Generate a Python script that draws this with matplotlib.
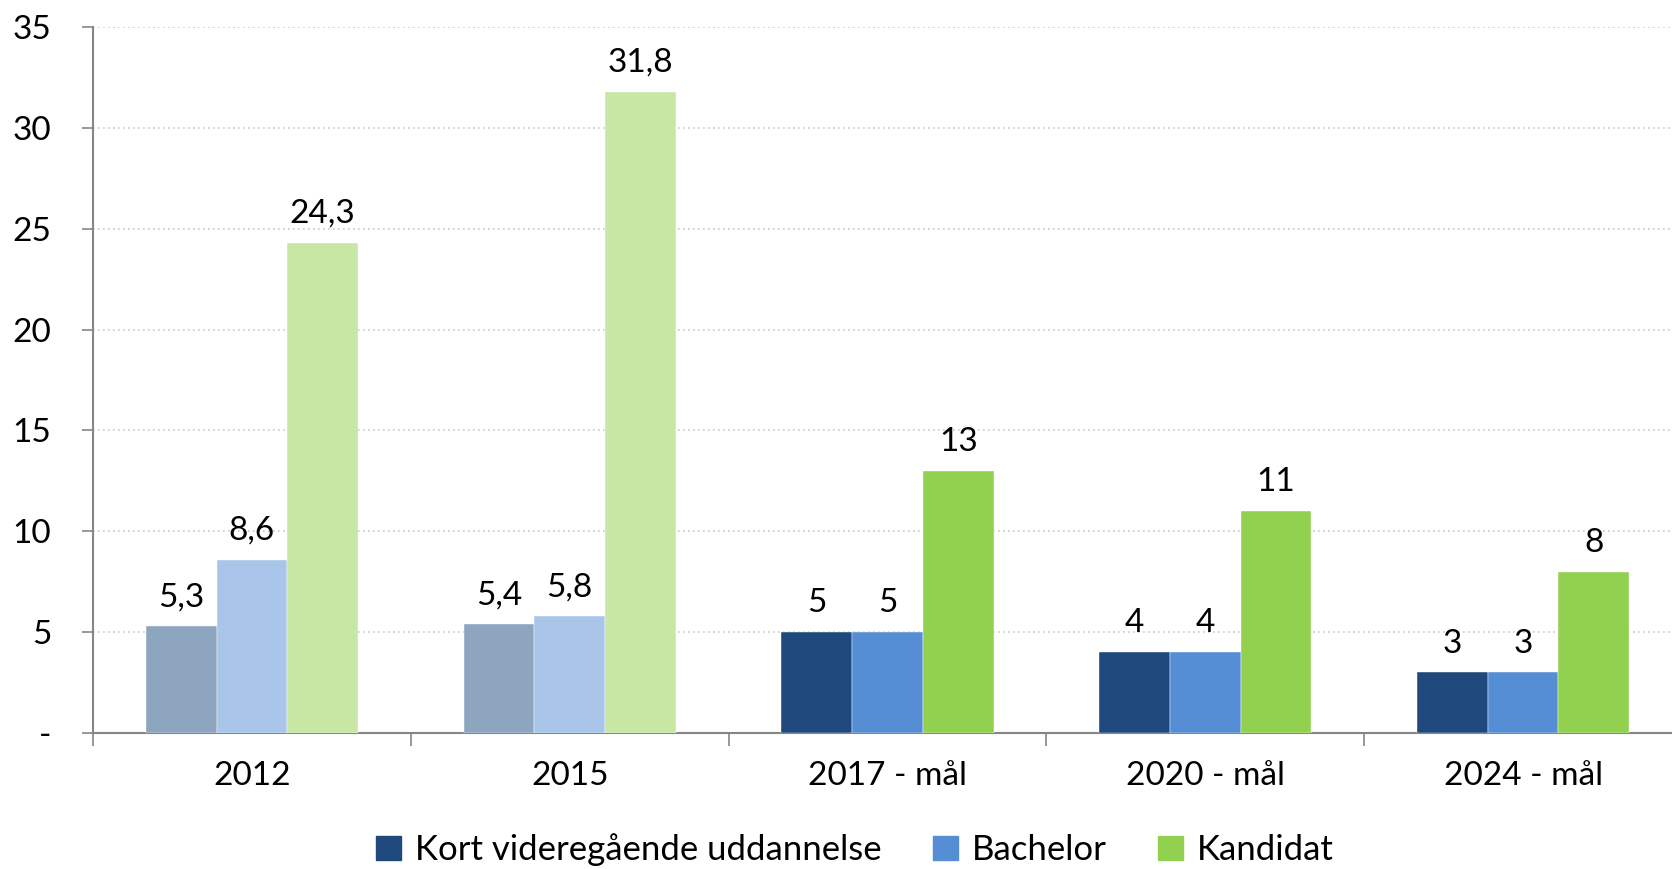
import numpy as np
import matplotlib
matplotlib.use("Agg")
import matplotlib.pyplot as plt
from matplotlib.patches import Patch

plt.rcParams['font.family'] = ['Lato', 'DejaVu Sans']

categories = ["2012", "2015", "2017 - mål", "2020 - mål", "2024 - mål"]
series_names = ["Kort videregående uddannelse", "Bachelor", "Kandidat"]
kort = [5.3, 5.4, 5, 4, 3]
bachelor = [8.6, 5.8, 5, 4, 3]
kandidat = [24.3, 31.8, 13, 11, 8]
yticks = [0, 5, 10, 15, 20, 25, 30, 35]
ytick_labels = ["-", "5", "10", "15", "20", "25", "30", "35"]

# full colours for the targets, faded ones for the historic years
strong = ["#1F497D", "#558ED5", "#92D050"]
faded = ["#8EA5C0", "#A9C5EA", "#C8E6A4"]
n_faded = 2


def fmt(v):
    if float(v).is_integer():
        return f"{int(v)}"
    return f"{v:.1f}".replace(".", ",")


fig = plt.figure(figsize=(16.72, 8.69), dpi=100)
ax = fig.add_axes([93 / 1672, 136 / 869, 1589 / 1672, 706 / 869])

x = np.arange(len(categories))
w = 0.2225
for k, vals in enumerate([kort, bachelor, kandidat]):
    cols = [faded[k] if i < n_faded else strong[k] for i in range(len(categories))]
    bars = ax.bar(x + (k - 1) * w, vals, w, color=cols, zorder=3,
                  edgecolor="white", linewidth=0.3)
    for b, v in zip(bars, vals):
        ax.annotate(fmt(v), (b.get_x() + b.get_width() / 2, b.get_height()),
                    xytext=(0, 10), textcoords="offset points",
                    ha="center", va="bottom", fontsize=24)

ax.set_xlim(-0.5, len(categories) - 0.5)
ax.set_ylim(0, 35)
ax.set_yticks(yticks)
ax.set_yticklabels(ytick_labels, fontsize=24)
ax.set_xticks(x)
ax.set_xticklabels(categories, fontsize=24)
ax.set_xticks(np.arange(len(categories) + 1) - 0.5, minor=True)
ax.tick_params(axis="x", which="major", length=0, pad=20)
ax.tick_params(axis="x", which="minor", length=9, color="#868686", width=1.2)
ax.tick_params(axis="y", length=8, color="#868686", width=1.2, pad=22)

ax.grid(axis="y", linestyle=(0, (1, 2)), color="#C8C8C8", linewidth=1.2, zorder=0)
for s in ["top", "right"]:
    ax.spines[s].set_visible(False)
for s in ["left", "bottom"]:
    ax.spines[s].set_color("#868686")
    ax.spines[s].set_linewidth(1.5)

handles = [Patch(color=c) for c in strong]
fig.legend(handles, series_names, loc="center", bbox_to_anchor=(855 / 1672, 19 / 869),
           ncol=3, frameon=False, fontsize=25, handlelength=0.7, handleheight=0.7,
           handletextpad=0.4, columnspacing=1.5)

fig.savefig("out.png", dpi=100)
